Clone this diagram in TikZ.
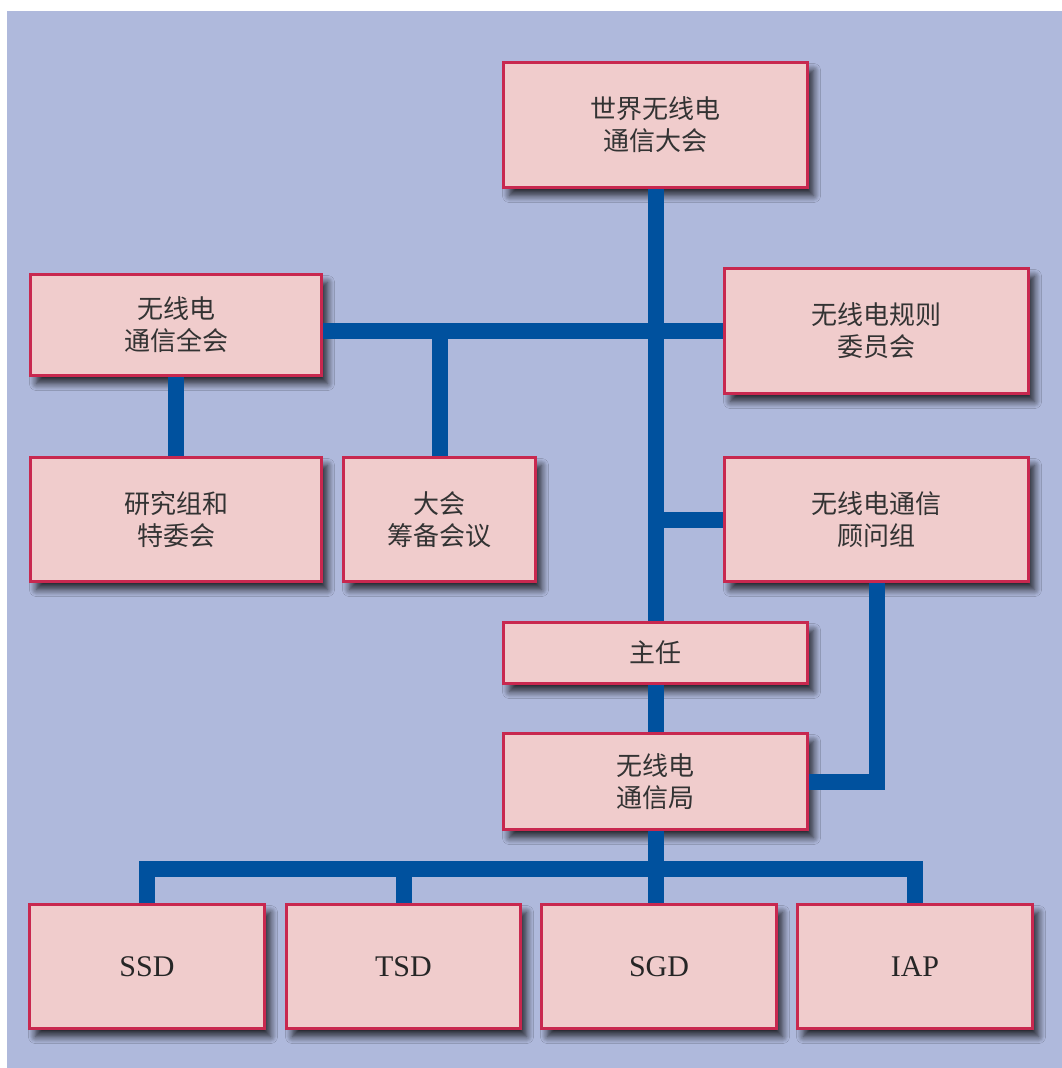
\documentclass[tikz,border=0pt]{standalone}
\usepackage{fontspec}
\newfontfamily\cjk{Noto Sans CJK SC}
\newfontfamily\latinserif{Liberation Serif}
\usetikzlibrary{shadows.blur}
\definecolor{panel}{HTML}{AFB9DC}
\definecolor{boxfill}{HTML}{F0CCCC}
\definecolor{boxborder}{HTML}{C8284F}
\definecolor{linkblue}{HTML}{00519E}
\definecolor{textgray}{HTML}{333333}
\tikzset{
  orgbox/.style={draw=boxborder, line width=3pt, fill=boxfill, inner sep=0pt,
    align=center, text=textgray, font=\cjk\fontsize{26}{32}\selectfont,
    blur shadow={shadow xshift=6pt, shadow yshift=-8pt, shadow blur radius=7pt,
      shadow blur steps=10, shadow opacity=80}},
  latinbox/.style={orgbox, text=black!85, font=\latinserif\fontsize{30}{32}\selectfont},
  link/.style={draw=linkblue, line width=16pt, line join=miter}
}
\begin{document}
\begin{tikzpicture}[x=1pt,y=-1pt]
\useasboundingbox (0,0) rectangle (1062,1068);
\fill[panel] (7,11) rectangle (1062,1068);
% boxes
\node[orgbox, minimum width=304pt, minimum height=125pt] (top) at (655.5,125) {世界无线电\\通信大会};
\node[orgbox, minimum width=291pt, minimum height=101pt] (quanhui) at (176,325) {无线电\\通信全会};
\node[orgbox, minimum width=304pt, minimum height=125pt] (guize) at (876.5,331) {无线电规则\\委员会};
\node[orgbox, minimum width=291pt, minimum height=124pt] (yanjiu) at (176,519.5) {研究组和\\特委会};
\node[orgbox, minimum width=192pt, minimum height=124pt] (dahui) at (439.5,519.5) {大会\\筹备会议};
\node[orgbox, minimum width=304pt, minimum height=124pt] (guwen) at (876.5,519.5) {无线电通信\\顾问组};
\node[orgbox, minimum width=304pt, minimum height=61pt] (zhu) at (655.5,653) {主任};
\node[orgbox, minimum width=304pt, minimum height=96pt] (ju) at (655.5,781.5) {无线电\\通信局};
\node[latinbox, minimum width=235pt, minimum height=124pt] (ssd) at (147,966.5) {SSD};
\node[latinbox, minimum width=234pt, minimum height=124pt] (tsd) at (403.5,966.5) {TSD};
\node[latinbox, minimum width=235pt, minimum height=124pt] (sgd) at (659,966.5) {SGD};
\node[latinbox, minimum width=235pt, minimum height=124pt] (iap) at (915,966.5) {IAP};
% connectors
\coordinate (bus) at (655.5,869);
\path[link] (top.south) -- (zhu.north);
\path[link] (quanhui.east |- guize.west) -- (guize.west);
\path[link] (dahui.north) -- (dahui.north |- guize.west);
\path[link] (quanhui.south) -- (yanjiu.north);
\path[link] (guwen.west) -- (guwen.west -| top.south);
\path[link] (guwen.south) |- (ju.east);
\path[link] (zhu.south) -- (ju.north);
\path[link] (ju.south) -- (ju.south |- sgd.north);
\path[link] (ssd.north) |- (bus) -| (iap.north);
\path[link] (tsd.north) -- (tsd.north |- bus);
\end{tikzpicture}
\end{document}
